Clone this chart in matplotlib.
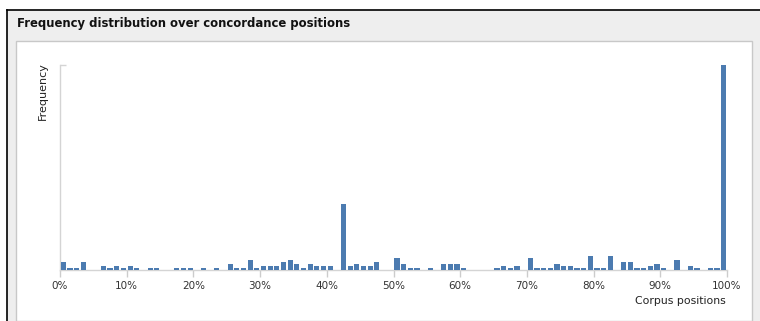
import matplotlib
matplotlib.use("Agg")
import matplotlib.pyplot as plt
import numpy as np
from matplotlib.patches import Rectangle
from matplotlib.lines import Line2D

# frequency per 1% slice of the corpus
bins = list(range(100))
counts = [4, 1, 1, 4, 0, 0, 2, 1, 2, 1,
          2, 1, 0, 1, 1, 0, 0, 1, 1, 1,
          0, 1, 0, 1, 0, 3, 1, 1, 5, 1,
          2, 2, 2, 4, 5, 3, 1, 3, 2, 2,
          2, 0, 33, 2, 3, 2, 2, 4, 0, 0,
          6, 3, 1, 1, 0, 1, 0, 3, 3, 3,
          1, 0, 0, 0, 0, 1, 2, 1, 2, 0,
          6, 1, 1, 1, 3, 2, 2, 1, 1, 7,
          1, 1, 7, 0, 4, 4, 1, 1, 2, 3,
          1, 0, 5, 0, 2, 1, 0, 1, 1, 102]
tick_pos = [0, 10, 20, 30, 40, 50, 60, 70, 80, 90, 100]
tick_labels = [str(t) + "%" for t in tick_pos]

W, H = 760, 321


def fx(px):
    return px / W


def fy(py):
    return 1 - py / H


fig = plt.figure(figsize=(W / 100, H / 100), dpi=100, facecolor="white")

# panel frame
fig.add_artist(Rectangle((fx(7), 0), 1 - fx(7), fy(10), transform=fig.transFigure,
                         facecolor="#eeeeee", edgecolor="none", zorder=0))
fig.add_artist(Rectangle((fx(16), 0), fx(752) - fx(16), fy(41), transform=fig.transFigure,
                         facecolor="white", edgecolor="#c8c8c8", lw=1, zorder=0))
fig.add_artist(Line2D([fx(7), 1], [fy(10), fy(10)], transform=fig.transFigure,
                      color="black", lw=1.2))
fig.add_artist(Line2D([fx(7), fx(7)], [0, fy(10)], transform=fig.transFigure,
                      color="black", lw=1.2))
fig.text(fx(17), fy(24), "Frequency distribution over concordance positions",
         fontsize=8.4, fontweight="bold", color="#111111", va="center", ha="left")

ax = fig.add_axes([fx(60), fy(270), fx(727) - fx(60), fy(65) - fy(270)])
ax.patch.set_alpha(0)
ax.bar(np.array(bins) + 0.12, counts, width=0.78, align="edge", color="#4c7bb0",
       edgecolor="none", zorder=3)
ax.set_xlim(0, 100)
ax.set_ylim(0, 102)

for s in ["top", "right"]:
    ax.spines[s].set_visible(False)
for s in ["left", "bottom"]:
    ax.spines[s].set_color("#d4d4d4")
    ax.spines[s].set_linewidth(1)

ax.set_xticks(tick_pos)
ax.set_xticklabels(tick_labels)
ax.tick_params(axis="x", length=5, width=1, color="#cccccc", labelsize=7.5,
               labelcolor="#333333", pad=3)
ax.set_yticks([102])
ax.set_yticklabels([""])
ax.tick_params(axis="y", direction="in", length=4, width=1, color="#d4d4d4")

fig.text(fx(726), fy(301), "Corpus positions", fontsize=7.8, color="#222222",
         ha="right", va="center")
fig.text(fx(43), fy(62), "Frequency", fontsize=8, color="#222222", rotation=90,
         ha="center", va="top")

plt.savefig("out.png", dpi=100)
